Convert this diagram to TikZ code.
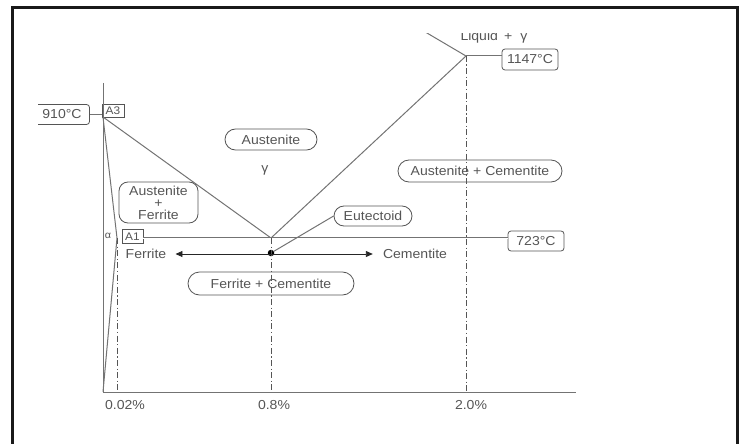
\documentclass[tikz,border=0pt]{standalone}
\usepackage{fontspec}
\setmainfont{Liberation Sans}[FakeStretch=1.08]
\usetikzlibrary{arrows.meta,shapes.misc}

\definecolor{ink}{RGB}{85,85,85}
\definecolor{rule}{RGB}{115,115,115}

\begin{document}
\begin{tikzpicture}[
    x=1pt, y=-1pt,
    >={Triangle[length=7pt,width=6pt]},
    font=\fontsize{13}{12}\selectfont,
    every node/.style={text=ink},
    phase/.style={draw=ink, rounded rectangle, line width=0.8pt, minimum height=21pt, inner sep=1pt},
    tag/.style={draw=ink, rounded corners=3pt, line width=0.8pt, minimum height=20pt, inner sep=1pt},
    pointbox/.style={draw=ink, line width=0.7pt, minimum height=14pt, minimum width=21pt, inner sep=0.5pt, font=\fontsize{11}{11}\selectfont},
    bound/.style={draw=rule, line width=1pt},
    isoline/.style={draw=rule, double=white, double distance=0.8pt, line width=0.7pt},
    guide/.style={draw=ink, line width=0.8pt, dash pattern=on 6pt off 2.5pt on 1.2pt off 2.5pt},
    line/.style={<->, draw=black!85, line width=0.9pt}
]
\useasboundingbox (0,0) rectangle (742,444);

% Outer frame
\draw[line width=3pt, black!90] (12.5,460) -- (12.5,7.5) -- (737,7.5) -- (737,460);

\begin{scope}
\clip (38,34) rectangle (700,430);

% Key points of the diagram
\coordinate (O) at (103,392);
\coordinate (ytop) at (103,83);
\coordinate (xend) at (576,392);
\coordinate (A3) at (103,117);
\coordinate (alpha) at (117,238);
\coordinate (eut) at (271,238);
\coordinate (liq) at (466,56);
\coordinate (liqtop) at (410,23);

% Temperature tags
\node[tag, minimum width=55pt] (t910) at (62,114.5) {910°C};
\node[pointbox, minimum width=22pt, minimum height=13pt] (a3box) at (113,110.5) {A3};
\node[pointbox] (a1box) at (132.5,236.5) {A1};
\node[font=\fontsize{10}{10}\selectfont, inner sep=0] (alphatxt) at (108,236) {α};
\node[tag, minimum width=56pt] (t723) at (536,241) {723°C};
\node[tag, minimum width=56pt, minimum height=21pt] (t1147) at (530,59.5) {1147°C};

% Phase fields
\node[inner sep=0] (liquid) at (494,37) {Liquid \,+\, \,γ};
\node[phase, minimum width=94pt] (aust) at (271,139.5) {Austenite};
\node[inner sep=0] (gamma) at (265,170) {γ};
\node[draw=ink, line width=0.8pt, rounded corners=9pt, minimum width=79pt, minimum height=41pt, align=center, inner sep=1pt] (austfer) at (158.5,202.5) {Austenite\\+\\Ferrite};
\node[phase, minimum width=166pt, minimum height=22pt] (austcem) at (480,171) {Austenite + Cementite};
\node[phase, minimum width=80pt, minimum height=20pt] (eutbox) at (373,216) {Eutectoid};
\node[phase, minimum width=168pt, minimum height=23pt] (fercem) at (271,283.5) {Ferrite + Cementite};
\node[inner sep=0] (ferrite) at (146,254) {Ferrite};
\node[inner sep=0] (cementite) at (415,254) {Cementite};
\node[circle, fill=black, inner sep=0, minimum size=6.5pt] (dot) at (271,253) {};

% Composition labels
\node (p002) at (125,405) {0.02\%};
\node (p08) at (274,405) {0.8\%};
\node (p20) at (471,405) {2.0\%};

% Axes and phase boundaries
\draw[bound] (ytop) -- (O) -- (xend);
\draw[bound] (A3) -- (eut) -- (liq) -- (liqtop);
\draw[bound] (A3) -- (alpha) -- (O);
\draw[bound] (liq) -- (t1147.west |- liq);
\draw[bound] (t910.east) -- (a3box.west |- t910.east);
\draw[isoline] (a1box.east |- eut) -- (t723.west |- eut);

% Composition guides
\draw[guide] (alpha) -- (alpha |- O);
\draw[guide] (eut) -- (eut |- O);
\draw[guide] (liq) -- (liq |- O);

% Eutectoid split
\draw[line, shorten <=9pt, shorten >=10pt] (ferrite.east) -- (cementite.west);
\draw[bound] (eutbox.west) -- (dot);
\end{scope}

\end{tikzpicture}
\end{document}
